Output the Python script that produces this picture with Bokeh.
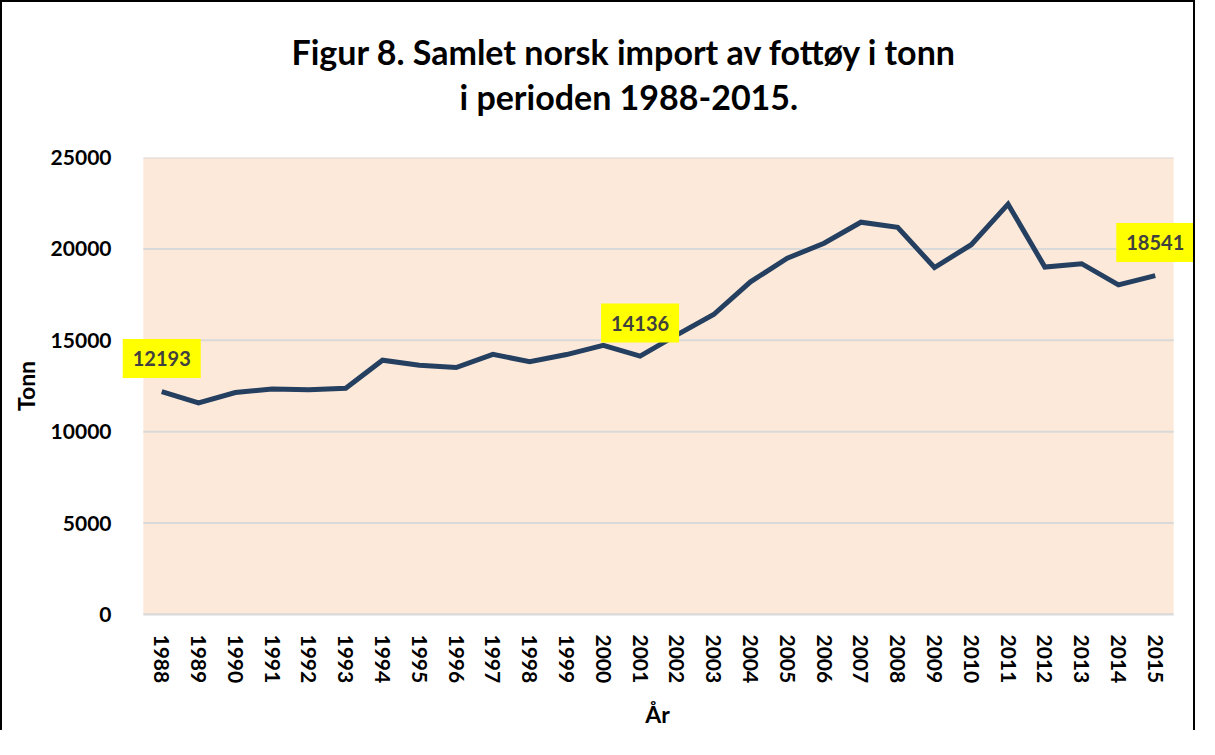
from bokeh.plotting import figure
from bokeh.models import Title, Label, Range1d, SingleIntervalTicker, FixedTicker, BasicTickFormatter
from bokeh.embed import file_html
from bokeh.resources import INLINE

years = list(range(1988, 2016))
tonn = [12193, 11570, 12140, 12340, 12300, 12380, 13910, 13640, 13510, 14230,
        13830, 14220, 14720, 14136, 15300, 16410, 18200, 19490, 20310, 21460,
        21180, 18980, 20230, 22450, 19010, 19190, 18030, 18541]
labelled_years = [1988, 2001, 2015]
y_ticks = list(range(0, 25001, 5000))

FONT = "Lato"
BG = "#FDE9D9"
GRID = "#D9D9D9"

# layout: the category area is 1038 px wide inside a 1080 px frame, the extra
# room keeps the end data labels from being clipped
W, H = 1195, 730
MB_L, MB_R, MB_T, MB_B = 111, 4, 147, 118
FRAME_W = W - MB_L - MB_R
step = 1038 / len(years)
x_lo = years[0] - 0.5
x_hi = years[-1] + 0.5
pad_l, pad_r = 22 / step, (FRAME_W - 1038 - 22) / step

p = figure(x_range=Range1d(x_lo - pad_l, x_hi + pad_r), y_range=Range1d(y_ticks[0], y_ticks[-1]),
           width=W, height=H,
           min_border_left=MB_L, min_border_right=MB_R, min_border_top=MB_T, min_border_bottom=MB_B,
           output_backend="svg", toolbar_location=None,
           background_fill_color="white", border_fill_color="white",
           styles={"border-top": "2px solid black", "border-left": "2px solid black",
                   "border-right": "2px solid black"})
p.outline_line_color = None
p.xgrid.visible = False
p.ygrid.visible = False

# plot-area background and horizontal gridlines, limited to the category area
p.quad(left=[x_lo], right=[x_hi], bottom=[y_ticks[0]], top=[y_ticks[-1]],
       fill_color=BG, line_color=None, level="image")
p.segment(x0=[x_lo] * len(y_ticks), x1=[x_hi] * len(y_ticks), y0=y_ticks, y1=y_ticks,
          line_color=GRID, line_width=2, level="underlay")

p.line(years, tonn, line_color="#243F60", line_width=5, line_join="miter")

for yr, v in zip(years, tonn):
    if yr in labelled_years:
        p.add_layout(Label(x=yr, y=v, y_offset=33, text=str(v), text_align="center",
                           text_baseline="middle", text_font=FONT, text_font_style="bold",
                           text_font_size="20px", text_color="#404040",
                           background_fill_color="#FFFF00", padding=(10, 12)))

# empty spacer panels to fix the margins around the frame
def spacer(gap):
    return Title(text=" ", text_font_size="1px", standoff=gap)

# title block (panels stacked outward from the frame)
p.add_layout(spacer(36), "above")
p.add_layout(Title(text="i perioden 1988-2015.", align="left", offset=338,
                   text_font=FONT, text_font_style="bold", text_font_size="34px",
                   text_color="black", standoff=4), "above")
p.add_layout(Title(text="Figur 8. Samlet norsk import av fottøy i tonn", align="left", offset=170,
                   text_font=FONT, text_font_style="bold", text_font_size="34px",
                   text_color="black", standoff=0), "above")
p.add_layout(spacer(23), "above")

p.xaxis.ticker = FixedTicker(ticks=years)
p.xaxis.formatter = BasicTickFormatter(use_scientific=False)
p.xaxis.bounds = (x_lo, x_hi)
p.yaxis.ticker = SingleIntervalTicker(interval=5000)

for ax in (p.xaxis[0], p.yaxis[0]):
    ax.major_tick_line_color = None
    ax.minor_tick_line_color = None
    ax.major_label_text_font = FONT
    ax.major_label_text_font_style = "bold"
    ax.major_label_text_font_size = "21px"
    ax.major_label_text_color = "black"
    ax.axis_label_text_font = FONT
    ax.axis_label_text_font_style = "bold"
    ax.axis_label_text_font_size = "23px"
    ax.axis_label_text_color = "black"

p.yaxis.axis_line_color = None
p.yaxis.axis_label = "Tonn"
p.yaxis.major_label_standoff = 4
p.yaxis.axis_label_standoff = 8

p.xaxis.axis_line_color = GRID
p.xaxis.axis_line_width = 2
p.xaxis.major_label_orientation = "vertical"
p.xaxis.major_label_standoff = 14
p.xaxis.axis_label = "År"
p.xaxis.axis_label_standoff = 14

p.add_layout(spacer(3), "left")
p.add_layout(spacer(1), "right")

open("out.html", "w").write(file_html(p, INLINE))
